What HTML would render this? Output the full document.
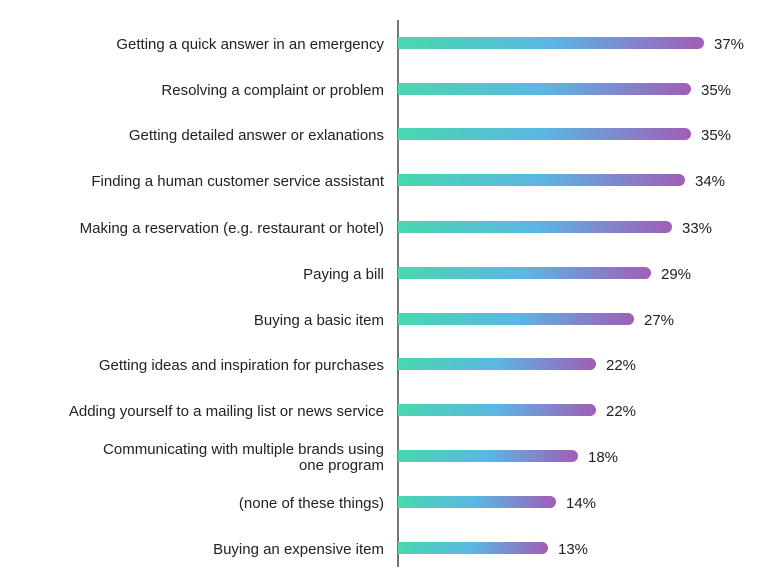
<!DOCTYPE html>
<html><head><meta charset="utf-8"><style>
body{margin:0;background:#fff;width:770px;height:588px;overflow:hidden;font-family:"Liberation Sans",sans-serif;color:#222}
.ax{position:absolute;left:397px;top:20px;width:2px;height:547px;background:#777}
.row{position:absolute;left:0;width:770px;height:0}
.lab{position:absolute;top:2px;right:386px;width:360px;text-align:right;font-size:15px;line-height:16px;transform:translateY(-50%)}
.bar{position:absolute;left:398px;top:-6px;height:12px;border-radius:0 6px 6px 0;background:linear-gradient(90deg,#48d8ae 0%,#5bb6e4 50%,#a15db6 100%)}
.val{position:absolute;top:2px;font-size:15px;transform:translateY(-50%);line-height:16px}
</style></head><body>
<div class="ax"></div>
<div class="row" style="top:43px"><div class="lab">Getting a quick answer in an emergency</div><div class="bar" style="width:306px"></div><div class="val" style="left:714px">37%</div></div>
<div class="row" style="top:89px"><div class="lab">Resolving a complaint or problem</div><div class="bar" style="width:293px"></div><div class="val" style="left:701px">35%</div></div>
<div class="row" style="top:134px"><div class="lab">Getting detailed answer or exlanations</div><div class="bar" style="width:293px"></div><div class="val" style="left:701px">35%</div></div>
<div class="row" style="top:180px"><div class="lab">Finding a human customer service assistant</div><div class="bar" style="width:287px"></div><div class="val" style="left:695px">34%</div></div>
<div class="row" style="top:227px"><div class="lab">Making a reservation (e.g. restaurant or hotel)</div><div class="bar" style="width:274px"></div><div class="val" style="left:682px">33%</div></div>
<div class="row" style="top:273px"><div class="lab">Paying a bill</div><div class="bar" style="width:253px"></div><div class="val" style="left:661px">29%</div></div>
<div class="row" style="top:319px"><div class="lab">Buying a basic item</div><div class="bar" style="width:236px"></div><div class="val" style="left:644px">27%</div></div>
<div class="row" style="top:364px"><div class="lab">Getting ideas and inspiration for purchases</div><div class="bar" style="width:198px"></div><div class="val" style="left:606px">22%</div></div>
<div class="row" style="top:410px"><div class="lab">Adding yourself to a mailing list or news service</div><div class="bar" style="width:198px"></div><div class="val" style="left:606px">22%</div></div>
<div class="row" style="top:456px"><div class="lab">Communicating with multiple brands using<br>one program</div><div class="bar" style="width:180px"></div><div class="val" style="left:588px">18%</div></div>
<div class="row" style="top:502px"><div class="lab">(none of these things)</div><div class="bar" style="width:158px"></div><div class="val" style="left:566px">14%</div></div>
<div class="row" style="top:548px"><div class="lab">Buying an expensive item</div><div class="bar" style="width:150px"></div><div class="val" style="left:558px">13%</div></div>
</body></html>
